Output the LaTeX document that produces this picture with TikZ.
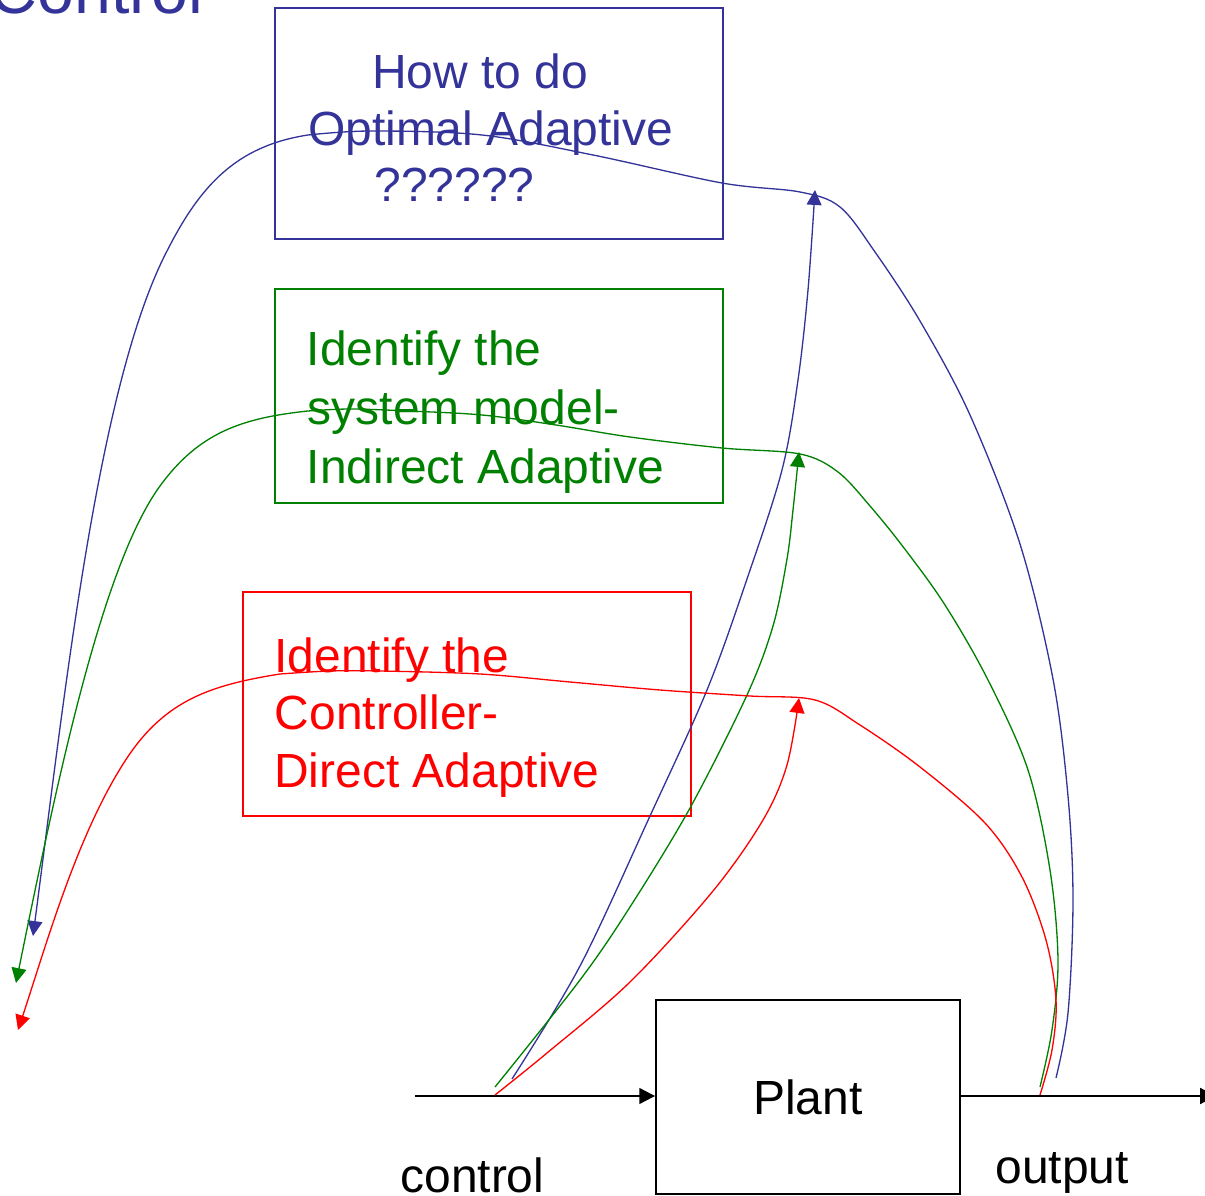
\documentclass[tikz,border=0pt]{standalone}
\usepackage{fontspec}
\setmainfont{Liberation Sans}
\usetikzlibrary{arrows.meta}
\definecolor{ablue}{HTML}{333399}
\definecolor{agreen}{HTML}{008000}
\definecolor{ared}{HTML}{FF0000}
\begin{document}
\begin{tikzpicture}[x=0.02cm,y=-0.02cm,
  lbl/.style={anchor=base west, inner sep=0pt, font=\fontsize{27.3pt}{32.8pt}\selectfont},
  framebox/.style={draw, line width=0.75pt, inner sep=0pt, minimum width=8.96cm},
  loop/.style={line width=0.75pt, -{Triangle[length=8.5pt,width=8.5pt]}},
  flow/.style={line width=1.2pt, -{Triangle[length=9pt,width=9pt]}}]
\useasboundingbox (0,0) rectangle (1205,1196);
\begin{scope}
\clip (0,0) rectangle (1205,1196);

% title
\node[anchor=base west, inner sep=0pt, text=ablue,
  font=\fontsize{37.7pt}{45pt}\selectfont] (title) at (-10.6,14) {Control};

% the three adaptive schemes
\node[framebox, draw=ablue, minimum height=4.62cm] (optbox) at (499,123.5) {};
\node[lbl, text=ablue] (opt1) at (372,88.5) {How to do};
\node[lbl, text=ablue] (opt2) at (307.7,146) {Optimal Adaptive};
\node[lbl, text=ablue] (opt3) at (374,201.5) {??????};

\node[framebox, draw=agreen, minimum height=4.28cm] (indbox) at (499,396) {};
\node[lbl, text=agreen] (ind1) at (306.5,366) {Identify the};
\node[lbl, text=agreen] (ind2) at (307.5,425) {system model-};
\node[lbl, text=agreen] (ind3) at (306.5,484) {Indirect Adaptive};

\node[framebox, draw=ared, minimum height=4.48cm] (dirbox) at (467,704) {};
\node[lbl, text=ared] (dir1) at (274,672) {Identify the};
\node[lbl, text=ared] (dir2) at (274.5,729.5) {Controller-};
\node[lbl, text=ared] (dir3) at (274,787) {Direct Adaptive};

% plant with its input and output
\node[draw, line width=1.1pt, minimum width=6.08cm, minimum height=3.88cm,
  font=\fontsize{27.3pt}{32.8pt}\selectfont] (plant) at (808,1097) {Plant};
\coordinate (uin) at (415,1096);
\coordinate (yout) at (1216,1096);
\draw[flow] (uin) -- (plant.west |- uin);
\draw[flow] (plant.east |- yout) -- (yout);
\node[lbl] (ulabel) at (400,1192) {control};
\node[lbl] (ylabel) at (995,1183) {output};

% signal taps and arrow ends
\coordinate (uB) at (512,1079);
\coordinate (uG) at (495,1087);
\coordinate (uR) at (495,1095);
\coordinate (yB) at (1056,1078);
\coordinate (yG) at (1040,1087);
\coordinate (yR) at (1040,1095);
\coordinate (tipB) at (815,190);
\coordinate (tipG) at (799,452);
\coordinate (tipR) at (799,698);
\coordinate (endB) at (33,936);
\coordinate (endG) at (16,983);
\coordinate (endR) at (18,1030);

% control signal fed to each scheme
\draw[loop, ablue] plot[smooth, tension=0.55] coordinates
  {(uB) (580,966) (650,816) (707,690) (747,579) (782,470) (798,380) (808,290) (tipB)};
\draw[loop, agreen] plot[smooth, tension=0.55] coordinates
  {(uG) (580,980) (630,907) (690,808) (747,695) (773,626) (787,559) (793,510) (tipG)};
\draw[loop, ared] plot[smooth, tension=0.55] coordinates
  {(uR) (547,1053) (630,982) (713,891) (763,820) (787,765) (tipR)};

% plant output fed back through each scheme
\draw[loop, ablue] plot[smooth, tension=0.55] coordinates
  {(yB) (1068,1013) (1073,900) (1068,796) (1053,679) (1020,544) (970,415) (920,321)
   (875,252) (840,207) (800,192) (722,183) (593,155) (482,135) (371,131) (308,135)}
  .. controls (236,146) and (200,186) .. (167,251)
  .. controls (98,384) and (65.5,688.5) .. (endB);
\draw[loop, agreen] plot[smooth, tension=0.55] coordinates
  {(yG) (1052,1030) (1058,960) (1050,870) (1028,770) (988,680) (945,605) (904,548)
   (870,506) (838,472) (800,454) (722,448) (630,437) (556,425) (482,415) (408,411)
   (350,409) (308,411)}
  .. controls (242,418) and (199,432.5) .. (160,486)
  .. controls (101,567) and (56,787) .. (endG);
\draw[loop, ared] plot[smooth, tension=0.55] coordinates
  {(yR) (1052,1050) (1056,1000) (1046,940) (1022,877) (985,823) (920,767) (860,725)
   (815,700) (750,696) (660,690) (570,682) (480,674) (380,671) (330,671) (280,674)}
  .. controls (211,685) and (165.5,700) .. (127,758)
  .. controls (77.5,832.7) and (46.4,944.6) .. (endR);
\end{scope}
\end{tikzpicture}
\end{document}
